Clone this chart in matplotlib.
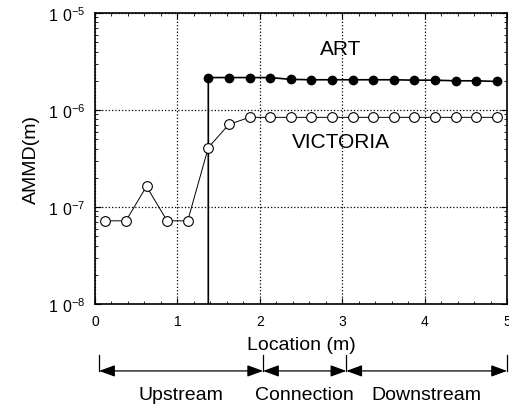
import matplotlib
matplotlib.use("Agg")
import matplotlib.pyplot as plt
from matplotlib.ticker import FixedLocator, MultipleLocator, LogLocator, NullFormatter

plt.rcParams['font.family'] = ['Liberation Sans', 'DejaVu Sans']
plt.rcParams['mathtext.fontset'] = 'custom'
plt.rcParams['mathtext.rm'] = 'Liberation Sans'

# VICTORIA results (open circles)
vic_x = [0.125, 0.375, 0.625, 0.875, 1.125, 1.375, 1.625, 1.875, 2.125, 2.375,
         2.625, 2.875, 3.125, 3.375, 3.625, 3.875, 4.125, 4.375, 4.625, 4.875]
vic_y = [7.2e-8, 7.2e-8, 1.63e-7, 7.2e-8, 7.2e-8, 4.1e-7, 7.1e-7, 8.4e-7, 8.4e-7, 8.4e-7,
         8.4e-7, 8.4e-7, 8.4e-7, 8.4e-7, 8.4e-7, 8.4e-7, 8.4e-7, 8.4e-7, 8.4e-7, 8.4e-7]

# ART results (filled circles); starts with a jump up from the bottom at x=1.375
art_x = [1.375, 1.625, 1.875, 2.125, 2.375, 2.625, 2.875, 3.125,
         3.375, 3.625, 3.875, 4.125, 4.375, 4.625, 4.875]
art_y = [2.16e-6, 2.16e-6, 2.16e-6, 2.16e-6, 2.07e-6, 2.05e-6, 2.05e-6, 2.05e-6,
         2.05e-6, 2.05e-6, 2.03e-6, 2.03e-6, 2.0e-6, 2.0e-6, 1.97e-6]
art_floor = 1e-8

# regions along the pipe
region_edges = [0.05, 2.04, 3.05, 5.0]
region_names = ["Upstream", "Connection", "Downstream"]

fig = plt.figure(figsize=(5.09, 4.06), dpi=100)
ax = fig.add_axes([95 / 509, 1 - 305 / 406, 412 / 509, 291 / 406])

ax.plot([art_x[0]] + art_x, [art_floor] + art_y, color='black', lw=1.2)
ax.plot(art_x, art_y, 'o', color='black', ms=6)
ax.plot(vic_x, vic_y, '-', color='black', lw=0.7, marker='o', ms=7,
        mfc='white', mec='black', mew=0.8)

ax.set_yscale('log')
ax.set_xlim(0, 5)
ax.set_ylim(1e-8, 1e-5)
ax.yaxis.set_major_locator(FixedLocator([1e-8, 1e-7, 1e-6, 1e-5]))
ax.set_yticklabels([r'$\mathregular{1\ 0^{-8}}$', r'$\mathregular{1\ 0^{-7}}$',
                    r'$\mathregular{1\ 0^{-6}}$', r'$\mathregular{1\ 0^{-5}}$'])
ax.yaxis.set_minor_locator(LogLocator(base=10, subs=range(2, 10)))
ax.yaxis.set_minor_formatter(NullFormatter())
ax.xaxis.set_major_locator(MultipleLocator(1))
ax.xaxis.set_minor_locator(MultipleLocator(0.2))
ax.tick_params(which='both', direction='in', top=True, right=True)
ax.tick_params(axis='y', which='major', length=4, pad=7, labelsize=11.5)
ax.tick_params(axis='x', which='major', length=4, pad=7, labelsize=10)
ax.tick_params(which='minor', length=2)
ax.grid(True, which='major', linestyle=':', color='black', lw=0.9)
for s in ax.spines.values():
    s.set_linewidth(1.2)

ax.set_ylabel('AMMD(m)', fontsize=14, labelpad=6)
ax.set_xlabel('Location (m)', fontsize=14, labelpad=6)

ax.text(2.98, 4.3e-6, 'ART', fontsize=15, ha='center', va='center')
ax.text(2.98, 4.7e-7, 'VICTORIA', fontsize=15, ha='center', va='center')

# region arrows under the axis
tr = ax.get_xaxis_transform()
y_arr = -0.23
for e in region_edges:
    ax.plot([e, e], [y_arr, y_arr + 0.055], color='black', lw=0.9,
            transform=tr, clip_on=False)
for a, b, name in zip(region_edges[:-1], region_edges[1:], region_names):
    ax.annotate('', xy=(a, y_arr), xytext=(b, y_arr), xycoords=tr, textcoords=tr,
                arrowprops=dict(arrowstyle='<|-|>,head_length=0.6,head_width=0.22',
                                color='black', lw=0.9,
                                mutation_scale=16, shrinkA=0, shrinkB=0))
    ax.text((a + b) / 2, y_arr - 0.08, name, fontsize=14, ha='center', va='center',
            transform=tr)

fig.savefig('out.png', dpi=100)
